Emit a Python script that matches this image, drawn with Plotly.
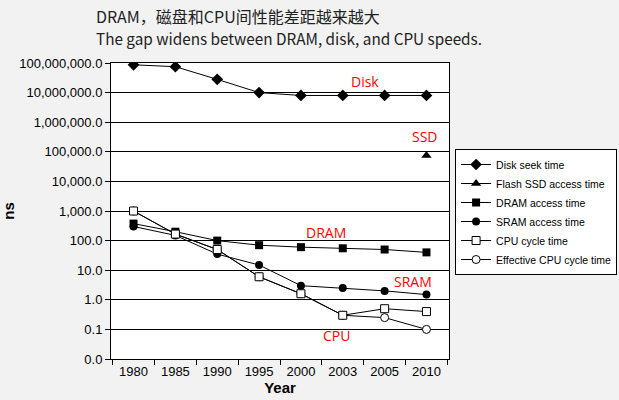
import plotly.graph_objects as go

years = ["1980", "1985", "1990", "1995", "2000", "2003", "2005", "2010"]
disk_seek = [87e6, 75e6, 28e6, 10e6, 8e6, 8e6, 8e6, 8e6]
ssd_years = ["2010"]
ssd_access = [75000]
dram_access = [375, 200, 100, 70, 60, 55, 50, 40]
sram_access = [300, 150, 35, 15, 3, 2.5, 2.0, 1.5]
cpu_cycle = [1000, 166, 50, 6, 1.6, 0.30, 0.50, 0.40]
eff_cycle = [1000, 166, 50, 6, 1.6, 0.30, 0.25, 0.10]

ytick_vals = [0.01, 0.1, 1, 10, 100, 1e3, 1e4, 1e5, 1e6, 1e7, 1e8]
ytick_text = ["0.0", "0.1", "1.0", "10.0", "100.0", "1,000.0", "10,000.0",
              "100,000.0", "1,000,000.0", "10,000,000.0", "100,000,000.0"]

labels = ["Disk", "SSD", "DRAM", "SRAM", "CPU"]

fig = go.Figure()
line = dict(color="black", width=1)

fig.add_trace(go.Scatter(x=years, y=disk_seek, name="Disk seek time", mode="lines+markers",
                         line=line, marker=dict(symbol="diamond", size=9, color="black"),
                         legendrank=1))
fig.add_trace(go.Scatter(x=ssd_years, y=ssd_access, name="Flash SSD access time", mode="lines+markers",
                         line=line, marker=dict(symbol="triangle-up", size=9, color="black"),
                         legendrank=2))
fig.add_trace(go.Scatter(x=years, y=dram_access, name="DRAM access time", mode="lines+markers",
                         line=line, marker=dict(symbol="square", size=8, color="black"),
                         legendrank=3))
fig.add_trace(go.Scatter(x=years, y=sram_access, name="SRAM access time", mode="lines+markers",
                         line=line, marker=dict(symbol="circle", size=8, color="black"),
                         legendrank=4))
fig.add_trace(go.Scatter(x=years, y=eff_cycle, name="Effective CPU cycle time", mode="lines+markers",
                         line=line, marker=dict(symbol="circle", size=8, color="white",
                                                line=dict(color="black", width=1)),
                         legendrank=6))
fig.add_trace(go.Scatter(x=years, y=cpu_cycle, name="CPU cycle time", mode="lines+markers",
                         line=line, marker=dict(symbol="square", size=8, color="white",
                                                line=dict(color="black", width=1)),
                         legendrank=5))

# red labels (positions in category index / log10 units)
label_pos = [(5.54, 7.39), (6.96, 5.53), (4.61, 2.26), (6.67, 0.635), (4.85, -1.19)]
for t, (px, py) in zip(labels, label_pos):
    fig.add_annotation(x=px, y=py, text=t, showarrow=False,
                       font=dict(family="Open Sans", size=14, color="red"))

fig.add_annotation(xref="paper", yref="paper", x=(94 - 111) / 338, y=1 + (63 - 16) / 296,
                   xanchor="left", yanchor="middle", showarrow=False,
                   text="DRAM，磁盘和CPU间性能差距越来越大",
                   font=dict(family="Noto Sans CJK SC", size=16, color="#222"))
fig.add_annotation(xref="paper", yref="paper", x=(94 - 111) / 338, y=1 + (63 - 38) / 296,
                   xanchor="left", yanchor="middle", showarrow=False,
                   text="The gap widens between DRAM, disk, and CPU speeds.",
                   font=dict(family="Noto Sans CJK SC", size=15.3, color="#222"))

fig.update_layout(
    width=619, height=400,
    margin=dict(l=111, r=170, t=63, b=41, autoexpand=False),
    paper_bgcolor="#f2f2f2", plot_bgcolor="white",
    font=dict(family="Liberation Sans, Arial", color="black"),
    showlegend=True,
    legend=dict(x=1.018, y=(359 - 212) / 296, xanchor="left", yanchor="middle",
                bgcolor="white", bordercolor="black", borderwidth=1,
                font=dict(size=10.5, family="Liberation Sans, Arial"),
                tracegroupgap=0, itemwidth=30),
)
fig.update_xaxes(type="category", categoryorder="array", categoryarray=years,
                 tickson="boundaries", ticks="outside", ticklen=5, tickcolor="black",
                 showline=True, linecolor="black", linewidth=1, mirror=True,
                 showgrid=False, tickfont=dict(size=13), automargin=False,
                 title=dict(text="<b>Year</b>", font=dict(size=15), standoff=2))
fig.update_yaxes(type="log", range=[-2, 8], tickvals=ytick_vals, ticktext=ytick_text,
                 ticks="outside", ticklen=5, tickcolor="black",
                 showline=True, linecolor="black", linewidth=1, mirror=True,
                 showgrid=True, gridcolor="black", gridwidth=1,
                 tickfont=dict(size=13), automargin=False,
                 title=dict(text="<b>ns</b>", font=dict(size=15), standoff=8))

fig.write_html("out.html", config={"displayModeBar": False},
               post_script="document.body.style.margin='0';")
